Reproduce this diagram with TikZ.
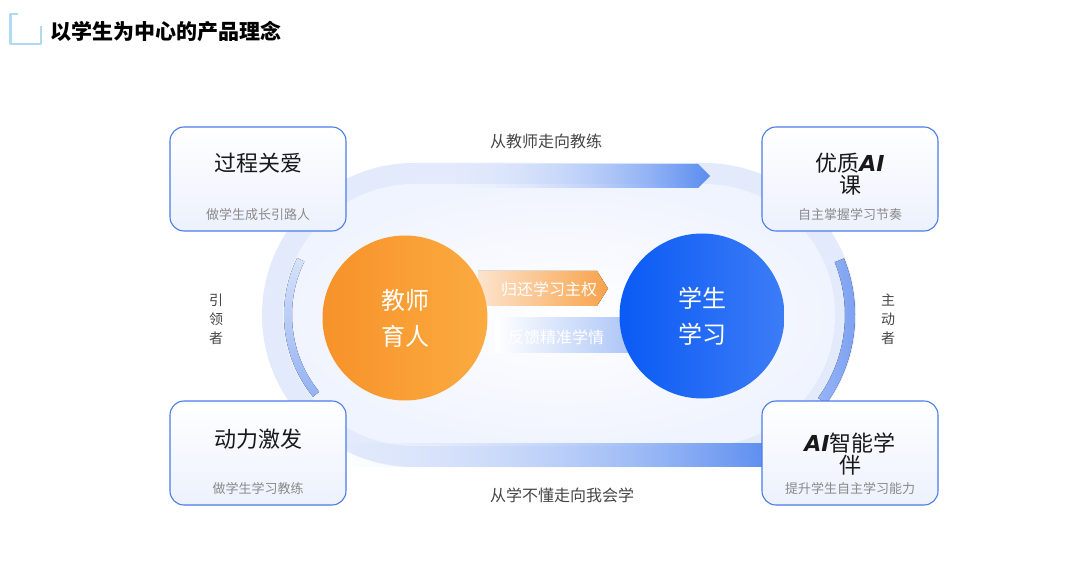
\documentclass[tikz,border=0pt]{standalone}
\usepackage{fontspec}
\setmainfont{Noto Sans CJK SC}
\newfontfamily\aifont{DejaVu Sans}
\usetikzlibrary{calc,positioning,fadings}
\definecolor{ringfill}{RGB}{226,234,252}
\definecolor{ringin}{RGB}{240,244,254}
\definecolor{arcpale}{RGB}{214,226,251}
\definecolor{arcblue}{RGB}{120,158,242}
\definecolor{trackblue}{RGB}{90,140,240}
\definecolor{orgpale}{RGB}{252,228,205}
\definecolor{orgleft}{RGB}{247,146,42}
\definecolor{orgright}{RGB}{251,171,64}
\definecolor{bluleft}{RGB}{10,90,245}
\definecolor{bluright}{RGB}{60,124,246}
\definecolor{bandblue}{RGB}{160,189,246}
\definecolor{cardline}{RGB}{74,125,234}
\definecolor{cardbot}{RGB}{236,241,253}
\definecolor{titletick}{RGB}{176,218,243}
\definecolor{subgray}{RGB}{138,138,138}
\definecolor{labgray}{RGB}{70,70,70}
\tikzfading[name=fadein, left color=transparent!100, right color=transparent!0]
\tikzset{
    lab/.style={
        font=\fontsize{16}{20}\selectfont, text=labgray
    }
}
\newcommand{\AI}{{\aifont\bfseries\itshape AI}}

\begin{document}
\begin{tikzpicture}[x=1pt,y=-1pt, line cap=round, line join=round]

% background

\useasboundingbox (0,0) rectangle (1080,572);
\fill[white] (0,0) rectangle (1080,572);

\tikzset{
  card/.style={rectangle, rounded corners=14pt, draw=cardline, line width=1.1pt,
    top color=white, bottom color=cardbot, minimum width=176pt, minimum height=104pt},
  ctitle/.style={font=\fontsize{22}{22}\selectfont, align=center, inner sep=0pt, text=black!90},
  csub/.style={font=\fontsize{13}{15}\selectfont, inner sep=0pt, text=subgray},
  circ/.style={circle, minimum size=165pt, inner sep=0pt, text=white, align=center,
    font=\fontsize{24}{36}\selectfont},
  atxt/.style={font=\fontsize{16}{20}\selectfont, inner sep=0pt, text=white},
  vlab/.style={font=\fontsize{14}{19}\selectfont, align=center, inner sep=0pt, text=labgray},
}

% page title
\draw[titletick, line width=2.2pt, line cap=butt] (18,14) -- (10.5,14) -- (10.5,44) -- (41,44) -- (41,26);
\node[font=\fontsize{21}{24}\selectfont\bfseries, anchor=west, inner sep=0pt] (title) at (50,32) {以学生为中心的产品理念};

% loop track
\coordinate (L) at (414,315);
\coordinate (R) at (704,315);

\fill[ringfill, rounded corners=152pt] (262,163) rectangle (856,467);
\shade[inner color=white, outer color=ringin, rounded corners=131pt] (283,184) rectangle (835,446);

% track highlights
\fill[top color=arcpale, bottom color=arcblue!80] (L) ++(206:130) arc (206:141:130) -- ++(141:-8) arc (141:206:122) -- cycle;
\fill[left color=ringfill, right color=arcblue] (R) ++(-22:151) arc (-22:36:151) -- ++(36:-10) arc (36:-22:141) -- cycle;

% top lane arrow
\shade[left color=arcpale, right color=trackblue, path fading=fadein] (455,164) -- (698,164) -- (710,176) -- (698,188) -- (455,188) -- cycle;

% bottom lane band
\shade[left color=arcpale, right color=trackblue, path fading=fadein] (330,443) rectangle (770,466);

% middle arrows
\fill[left color=orgpale, right color=orgleft!85] (478,271) -- (597,271) -- (608,288.5) -- (597,306) -- (478,306) -- cycle;
\fill[left color=white, right color=bandblue] (495,318) rectangle (650,353);

% circles
\node[circ, left color=orgleft, right color=orgright] (teach) at (405,318) {教师\\育人};
\node[circ, left color=bluleft, right color=bluright] (learn) at (702,316) {学生\\学习};

\node[atxt] (back) at (549,289) {归还学习主权};
\node[atxt] (feed) at (556,337) {反馈精准学情};

% cards
\node[card] (tl) at (258,179) {};
\node[card] (tr) at (850,179) {};
\node[card] (bl) at (258,453) {};
\node[card] (br) at (850,453) {};

\node[ctitle, below=26pt of tl.north] (tlT) {过程关爱};
\node[ctitle, below=26pt of tr.north] (trT) {优质\AI\\课};
\node[ctitle, below=28pt of bl.north] (blT) {动力激发};
\node[ctitle, below=32pt of br.north] (brT) {\AI 智能学\\伴};

\node[csub, above=11pt of tl.south] (tlS) {做学生成长引路人};
\node[csub, above=11pt of tr.south] (trS) {自主掌握学习节奏};
\node[csub, above=11pt of bl.south] (blS) {做学生学习教练};
\node[csub, above=11pt of br.south] (brS) {提升学生自主学习能力};

% labels
\node[lab] (topL) at (546,141) {从教师走向教练};
\node[lab] (botL) at (562,495) {从学不懂走向我会学};

\node[vlab] (lead) at (216,319) {引\\领\\者};
\node[vlab] (act) at (888,319) {主\\动\\者};

\end{tikzpicture}
\end{document}
